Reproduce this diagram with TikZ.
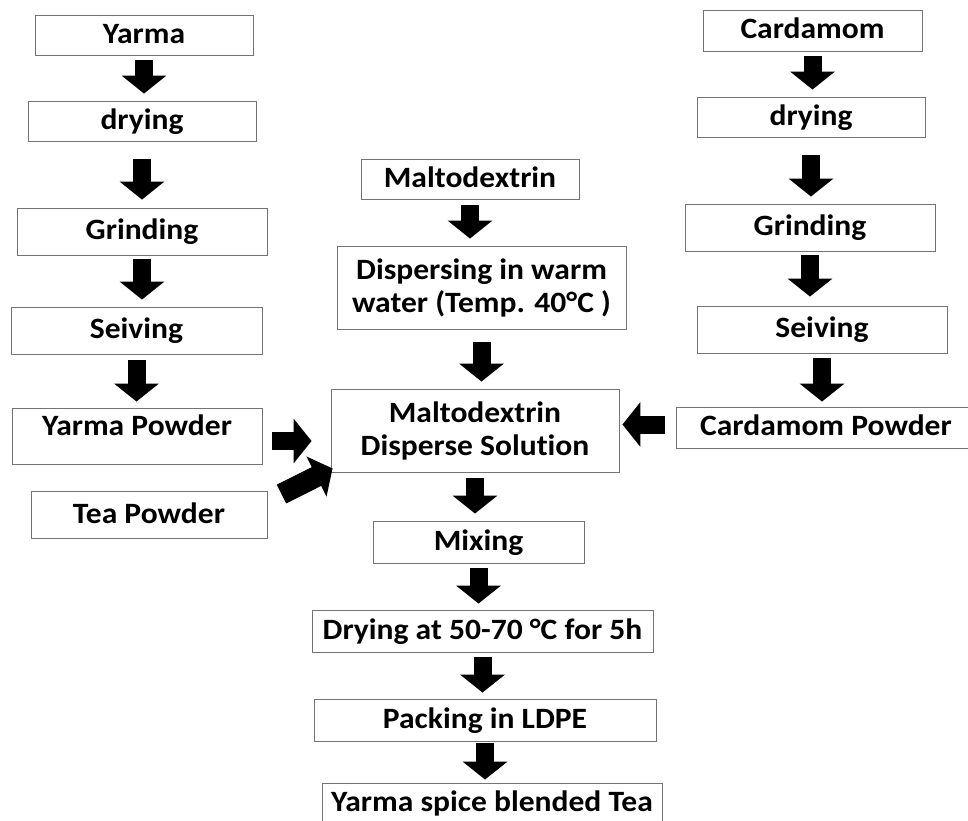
\documentclass[tikz,border=0pt]{standalone}
\usepackage{fontspec}
\setmainfont{Carlito}[FakeStretch=1.07,Ligatures={NoCommon}]
\usetikzlibrary{calc,arrows.meta}
\tikzset{
  stepbox/.style={draw=black!55,line width=0.9pt,fill=white,inner sep=0pt,
    align=center,font=\bfseries\fontsize{29.5}{33}\selectfont},
  oneline/.style={text height=23.5pt,text depth=7.5pt},
  blockarr/.style={line width=18pt,-{Triangle[length=18pt,width=44pt]}},
}

\begin{document}
\begin{tikzpicture}[x=1pt,y=-1pt]
  \useasboundingbox (0,0) rectangle (968,820);
  % Yarma line
  \node[stepbox,oneline,minimum width=218pt,minimum height=40pt] (yarma) at (144,35) {Yarma};
  \node[stepbox,oneline,minimum width=228pt,minimum height=40pt] (ydry) at (142,121) {drying};
  \node[stepbox,oneline,minimum width=250pt,minimum height=47pt] (ygrind) at (142,231.5) {Grinding};
  \node[stepbox,oneline,minimum width=251pt,minimum height=47pt] (ysieve) at (136.5,330.5) {Seiving};
  \node[stepbox,text height=23.5pt,text depth=25.5pt,minimum width=250pt,minimum height=56pt] (ypowder) at (137,436) {Yarma Powder};
  \node[stepbox,oneline,minimum width=236pt,minimum height=47pt] (tea) at (149,515) {Tea Powder};
  % maltodextrin line
  \node[stepbox,oneline,minimum width=218pt,minimum height=40pt] (malto) at (470,179) {Maltodextrin};
  \node[stepbox,minimum width=289pt,minimum height=83pt] (disp) at (481.5,287.5) {Dispersing in warm\\water (Temp. 40°C )};
  \node[stepbox,minimum width=288pt,minimum height=83pt] (sol) at (475,430.5) {Maltodextrin\\Disperse Solution};
  \node[stepbox,oneline,minimum width=211pt,minimum height=42pt] (mix) at (478.5,542) {Mixing};
  \node[stepbox,oneline,minimum width=341pt,minimum height=42pt] (dry) at (482.5,631) {Drying at 50-70 °C for 5h};
  \node[stepbox,oneline,minimum width=342pt,minimum height=42pt] (pack) at (485,720) {Packing in LDPE};
  \node[stepbox,text height=19pt,text depth=7.5pt,minimum width=340pt,minimum height=46pt] (final) at (492,806) {Yarma spice blended Tea};
  % cardamom line
  \node[stepbox,oneline,minimum width=219pt,minimum height=41pt] (card) at (812.5,30.5) {Cardamom};
  \node[stepbox,oneline,minimum width=228pt,minimum height=40pt] (cdry) at (811,117) {drying};
  \node[stepbox,oneline,minimum width=250pt,minimum height=47pt] (cgrind) at (810,227.5) {Grinding};
  \node[stepbox,oneline,minimum width=250pt,minimum height=47pt] (csieve) at (822,329.5) {Seiving};
  \node[stepbox,oneline,minimum width=300pt,minimum height=41pt] (cpowder) at (826,427.5) {Cardamom Powder};

  \draw[blockarr,shorten <=5pt,shorten >=7pt] (yarma.south) -- (yarma.south |- ydry.north);
  \draw[blockarr,shorten <=18pt,shorten >=8pt] (ydry.south) -- (ydry.south |- ygrind.north);
  \draw[blockarr,shorten <=4pt,shorten >=7pt] (ygrind.south) -- (ygrind.south |- ysieve.north);
  \draw[blockarr,shorten <=6pt,shorten >=6pt] (ysieve.south) -- (ysieve.south |- ypowder.north);
  \draw[blockarr,shorten <=6pt,shorten >=7pt] (malto.south) -- (malto.south |- disp.north);
  \draw[blockarr,shorten <=13pt,shorten >=7pt] (disp.south) -- (disp.south |- sol.north);
  \draw[blockarr,shorten <=6pt,shorten >=7pt] (sol.south) -- (sol.south |- mix.north);
  \draw[blockarr,shorten <=5pt,shorten >=6pt] (mix.south) -- (mix.south |- dry.north);
  \draw[blockarr,shorten <=5pt,shorten >=6pt] (dry.south) -- (dry.south |- pack.north);
  \draw[blockarr,shorten <=2pt,shorten >=3pt] (pack.south) -- (pack.south |- final.north);
  \draw[blockarr,shorten <=5pt,shorten >=7pt] (card.south) -- (card.south |- cdry.north);
  \draw[blockarr,shorten <=18pt,shorten >=7pt] (cdry.south) -- (cdry.south |- cgrind.north);
  \draw[blockarr,shorten <=4pt,shorten >=9pt] (cgrind.south) -- (cgrind.south |- csieve.north);
  \draw[blockarr,shorten <=5pt,shorten >=5pt] (csieve.south) -- (csieve.south |- cpowder.north);
  % side inputs
  \draw[blockarr,shorten <=10pt,shorten >=19pt] ([yshift=-5pt]ypowder.east) -- ([yshift=-5pt]ypowder.east -| sol.west);
  \draw[blockarr,shorten <=11pt,shorten >=3pt] ([yshift=3pt]cpowder.west) -- ([yshift=3pt]cpowder.west -| sol.east);
  \draw[blockarr,line width=21pt] ($(tea.north east)+(14,3)$) -- ($(sol.south west)+(2,-4)$);
\end{tikzpicture}
\end{document}
